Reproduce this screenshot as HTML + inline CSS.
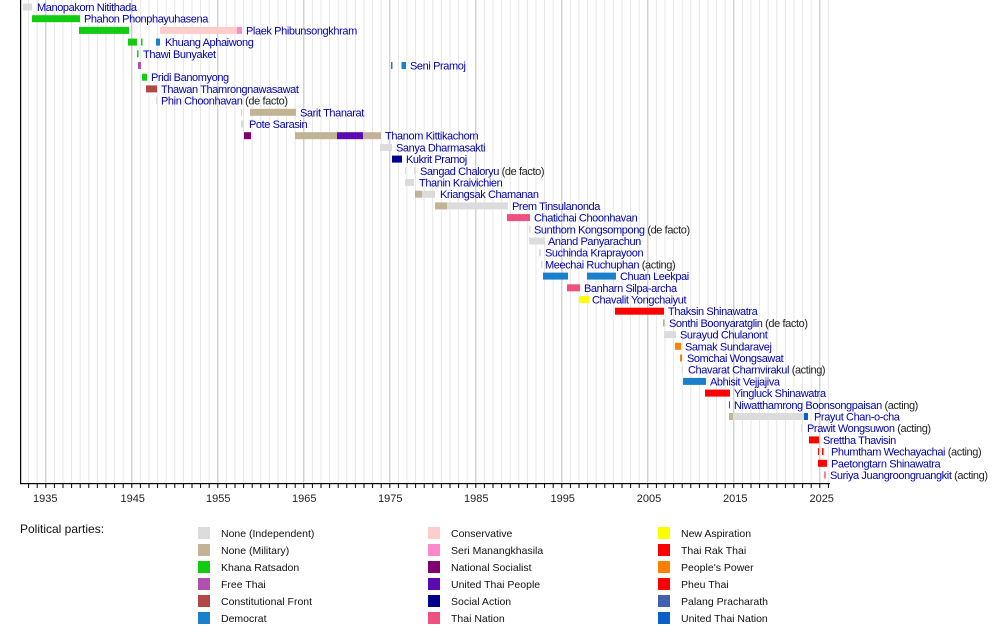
<!DOCTYPE html>
<html><head><meta charset="utf-8"><style>
html,body{margin:0;padding:0;background:#fff;}
svg{display:block;font-family:"Liberation Sans",Arial,sans-serif;}
.l{font-size:11px;fill:#0000a8;letter-spacing:-0.4px;}
.p{fill:#222;}
.t{font-size:11px;fill:#222;}
.g{font-size:10.5px;fill:#111;}
</style></head><body>
<svg width="1000" height="633" viewBox="0 0 1000 633" xmlns="http://www.w3.org/2000/svg">
<defs>
<pattern id="minor" patternUnits="userSpaceOnUse" x="45.3" y="0" width="8.6" height="10"><rect x="0" y="0" width="0.9" height="10" fill="#e4e4e4"/></pattern>
<pattern id="major" patternUnits="userSpaceOnUse" x="45.3" y="0" width="86" height="10"><rect x="0" y="0" width="1" height="10" fill="#c4c4c4"/></pattern>
<pattern id="tick" patternUnits="userSpaceOnUse" x="45.3" y="0" width="8.6" height="10"><rect x="0" y="0" width="1" height="10" fill="#000"/></pattern>
</defs>
<rect x="21" y="0" width="809" height="483" fill="url(#minor)"/>
<rect x="21" y="0" width="809" height="483" fill="url(#major)"/>
<rect x="20" y="0" width="1.2" height="484" fill="#000"/>
<rect x="20" y="483" width="810" height="1.2" fill="#000"/>
<rect x="21" y="484" width="809" height="4" fill="url(#tick)"/>
<g class="t" text-anchor="middle">
<text x="45.3" y="502">1935</text><text x="132.7" y="502">1945</text><text x="218.3" y="502">1955</text><text x="304.3" y="502">1965</text><text x="390.3" y="502">1975</text><text x="476.3" y="502">1985</text><text x="562.7" y="502">1995</text><text x="649" y="502">2005</text><text x="735.3" y="502">2015</text><text x="821.7" y="502">2025</text>
</g>
<g>
<rect x="23" y="3.5" width="9" height="7" fill="#dcdcdc"/>
<rect x="32" y="15.2" width="48" height="7" fill="#11cc11"/>
<rect x="79" y="26.9" width="50" height="7" fill="#11cc11"/>
<rect x="160" y="26.9" width="77" height="7" fill="#ffcccc"/>
<rect x="237" y="26.9" width="5" height="7" fill="#ff88cc"/>
<rect x="128" y="38.6" width="9" height="7" fill="#11cc11"/>
<rect x="141" y="38.6" width="1.5" height="7" fill="#11cc11"/>
<rect x="156" y="38.6" width="4" height="7" fill="#1a80cc"/>
<rect x="137" y="50.3" width="1.5" height="7" fill="#11cc11"/>
<rect x="138" y="62" width="3" height="7" fill="#b050b0"/>
<rect x="391" y="62" width="1.5" height="7" fill="#1a80cc"/>
<rect x="401.5" y="62" width="4.5" height="7" fill="#1a80cc"/>
<rect x="142" y="73.7" width="5" height="7" fill="#11cc11"/>
<rect x="146" y="85.4" width="11" height="7" fill="#b04848"/>
<rect x="156" y="97.1" width="1" height="7" fill="#dcdcdc"/>
<rect x="241" y="108.8" width="1" height="7" fill="#dcdcdc"/>
<rect x="250" y="108.8" width="46" height="7" fill="#c2b296"/>
<rect x="241" y="120.5" width="3" height="7" fill="#dcdcdc"/>
<rect x="244" y="132.2" width="7" height="7" fill="#800070"/>
<rect x="295" y="132.2" width="42" height="7" fill="#c2b296"/>
<rect x="337" y="132.2" width="26" height="7" fill="#5a0ab0"/>
<rect x="363" y="132.2" width="18" height="7" fill="#c2b296"/>
<rect x="380" y="143.9" width="12" height="7" fill="#dcdcdc"/>
<rect x="392" y="155.6" width="10" height="7" fill="#000090"/>
<rect x="405" y="167.3" width="1" height="7" fill="#dcdcdc"/>
<rect x="414" y="167.3" width="1.5" height="7" fill="#dcdcdc"/>
<rect x="405" y="179" width="9" height="7" fill="#dcdcdc"/>
<rect x="415" y="190.7" width="7" height="7" fill="#c2b296"/>
<rect x="422" y="190.7" width="13" height="7" fill="#dcdcdc"/>
<rect x="435" y="202.4" width="12" height="7" fill="#c2b296"/>
<rect x="447" y="202.4" width="61" height="7" fill="#dcdcdc"/>
<rect x="507" y="214.1" width="23" height="7" fill="#f05080"/>
<rect x="529" y="225.8" width="1.5" height="7" fill="#dcdcdc"/>
<rect x="529" y="237.5" width="16" height="7" fill="#dcdcdc"/>
<rect x="539" y="249.2" width="2" height="7" fill="#dcdcdc"/>
<rect x="541" y="260.9" width="1.5" height="7" fill="#dcdcdc"/>
<rect x="543" y="272.6" width="25" height="7" fill="#1a80cc"/>
<rect x="587" y="272.6" width="29" height="7" fill="#1a80cc"/>
<rect x="567" y="284.3" width="13" height="7" fill="#f05080"/>
<rect x="579" y="296" width="10" height="7" fill="#ffff00"/>
<rect x="615" y="307.7" width="49" height="7" fill="#ff0000"/>
<rect x="663" y="319.4" width="1.5" height="7" fill="#b0b0a0"/>
<rect x="664" y="331.1" width="12" height="7" fill="#dcdcdc"/>
<rect x="675" y="342.8" width="6" height="7" fill="#ff8000"/>
<rect x="680" y="354.5" width="2" height="7" fill="#ff8000"/>
<rect x="682" y="366.2" width="1" height="7" fill="#dcdcdc"/>
<rect x="683" y="377.9" width="23" height="7" fill="#1a80cc"/>
<rect x="705" y="389.6" width="25" height="7" fill="#ff0000"/>
<rect x="729" y="401.3" width="1" height="7" fill="#ff0000"/>
<rect x="729" y="413" width="4" height="7" fill="#c2b296"/>
<rect x="733" y="413" width="71" height="7" fill="#dcdcdc"/>
<rect x="804" y="413" width="4" height="7" fill="#0a60c8"/>
<rect x="801" y="424.7" width="1" height="7" fill="#dcdcdc"/>
<rect x="809" y="436.4" width="10" height="7" fill="#ff0000"/>
<rect x="818" y="448.1" width="1" height="7" fill="#ff0000"/>
<rect x="822" y="448.1" width="1.5" height="7" fill="#ff0000"/>
<rect x="818" y="459.8" width="9" height="7" fill="#ff0000"/>
<rect x="824.5" y="471.5" width="1" height="7" fill="#ff0000"/>
</g>
<g class="l">
<text x="37" y="11">Manopakorn Nitithada</text>
<text x="84" y="22.7">Phahon Phonphayuhasena</text>
<text x="246" y="34.4">Plaek Phibunsongkhram</text>
<text x="165" y="46.1">Khuang Aphaiwong</text>
<text x="143" y="57.8">Thawi Bunyaket</text>
<text x="410" y="69.5">Seni Pramoj</text>
<text x="151" y="81.2">Pridi Banomyong</text>
<text x="161" y="92.9">Thawan Thamrongnawasawat</text>
<text x="161" y="104.6">Phin Choonhavan <tspan class="p">(de facto)</tspan></text>
<text x="300" y="116.3">Sarit Thanarat</text>
<text x="249" y="128">Pote Sarasin</text>
<text x="385" y="139.7">Thanom Kittikachorn</text>
<text x="396" y="151.4">Sanya Dharmasakti</text>
<text x="406" y="163.1">Kukrit Pramoj</text>
<text x="420" y="174.8">Sangad Chaloryu <tspan class="p">(de facto)</tspan></text>
<text x="419" y="186.5">Thanin Kraivichien</text>
<text x="440" y="198.2">Kriangsak Chamanan</text>
<text x="512" y="209.9">Prem Tinsulanonda</text>
<text x="534" y="221.6">Chatichai Choonhavan</text>
<text x="534" y="233.3">Sunthorn Kongsompong <tspan class="p">(de facto)</tspan></text>
<text x="548" y="245">Anand Panyarachun</text>
<text x="545" y="256.7">Suchinda Kraprayoon</text>
<text x="545" y="268.4">Meechai Ruchuphan <tspan class="p">(acting)</tspan></text>
<text x="620" y="280.1">Chuan Leekpai</text>
<text x="584" y="291.8">Banharn Silpa-archa</text>
<text x="592" y="303.5">Chavalit Yongchaiyut</text>
<text x="668" y="315.2">Thaksin Shinawatra</text>
<text x="669" y="326.9">Sonthi Boonyaratglin <tspan class="p">(de facto)</tspan></text>
<text x="680" y="338.6">Surayud Chulanont</text>
<text x="685" y="350.3">Samak Sundaravej</text>
<text x="687" y="362">Somchai Wongsawat</text>
<text x="688" y="373.7">Chavarat Charnvirakul <tspan class="p">(acting)</tspan></text>
<text x="710" y="385.4">Abhisit Vejjajiva</text>
<text x="734" y="397.1">Yingluck Shinawatra</text>
<text x="734" y="408.8">Niwatthamrong Boonsongpaisan <tspan class="p">(acting)</tspan></text>
<text x="814" y="420.5">Prayut Chan-o-cha</text>
<text x="807" y="432.2">Prawit Wongsuwon <tspan class="p">(acting)</tspan></text>
<text x="823" y="443.9">Srettha Thavisin</text>
<text x="831" y="455.6">Phumtham Wechayachai <tspan class="p">(acting)</tspan></text>
<text x="831" y="467.3">Paetongtarn Shinawatra</text>
<text x="830" y="479">Suriya Juangroongruangkit <tspan class="p">(acting)</tspan></text>
</g>
<text x="20" y="533" style="font-size:12px" fill="#111">Political parties:</text>
<g>
<rect x="198" y="527" width="12" height="12" fill="#dcdcdc"/><text class="g" x="221" y="537">None (Independent)</text>
<rect x="198" y="544" width="12" height="12" fill="#c2b296"/><text class="g" x="221" y="554">None (Military)</text>
<rect x="198" y="561" width="12" height="12" fill="#11cc11"/><text class="g" x="221" y="571">Khana Ratsadon</text>
<rect x="198" y="578" width="12" height="12" fill="#b050b0"/><text class="g" x="221" y="588">Free Thai</text>
<rect x="198" y="595" width="12" height="12" fill="#b04848"/><text class="g" x="221" y="605">Constitutional Front</text>
<rect x="198" y="612" width="12" height="12" fill="#1a80cc"/><text class="g" x="221" y="622">Democrat</text>
<rect x="428" y="527" width="12" height="12" fill="#ffcccc"/><text class="g" x="451" y="537">Conservative</text>
<rect x="428" y="544" width="12" height="12" fill="#ff88cc"/><text class="g" x="451" y="554">Seri Manangkhasila</text>
<rect x="428" y="561" width="12" height="12" fill="#800070"/><text class="g" x="451" y="571">National Socialist</text>
<rect x="428" y="578" width="12" height="12" fill="#5a0ab0"/><text class="g" x="451" y="588">United Thai People</text>
<rect x="428" y="595" width="12" height="12" fill="#000090"/><text class="g" x="451" y="605">Social Action</text>
<rect x="428" y="612" width="12" height="12" fill="#f05080"/><text class="g" x="451" y="622">Thai Nation</text>
<rect x="658" y="527" width="12" height="12" fill="#ffff00"/><text class="g" x="681" y="537">New Aspiration</text>
<rect x="658" y="544" width="12" height="12" fill="#ff0000"/><text class="g" x="681" y="554">Thai Rak Thai</text>
<rect x="658" y="561" width="12" height="12" fill="#ff8000"/><text class="g" x="681" y="571">People's Power</text>
<rect x="658" y="578" width="12" height="12" fill="#ff0000"/><text class="g" x="681" y="588">Pheu Thai</text>
<rect x="658" y="595" width="12" height="12" fill="#4060b0"/><text class="g" x="681" y="605">Palang Pracharath</text>
<rect x="658" y="612" width="12" height="12" fill="#0a60c8"/><text class="g" x="681" y="622">United Thai Nation</text>
</g>
</svg>
</body></html>
